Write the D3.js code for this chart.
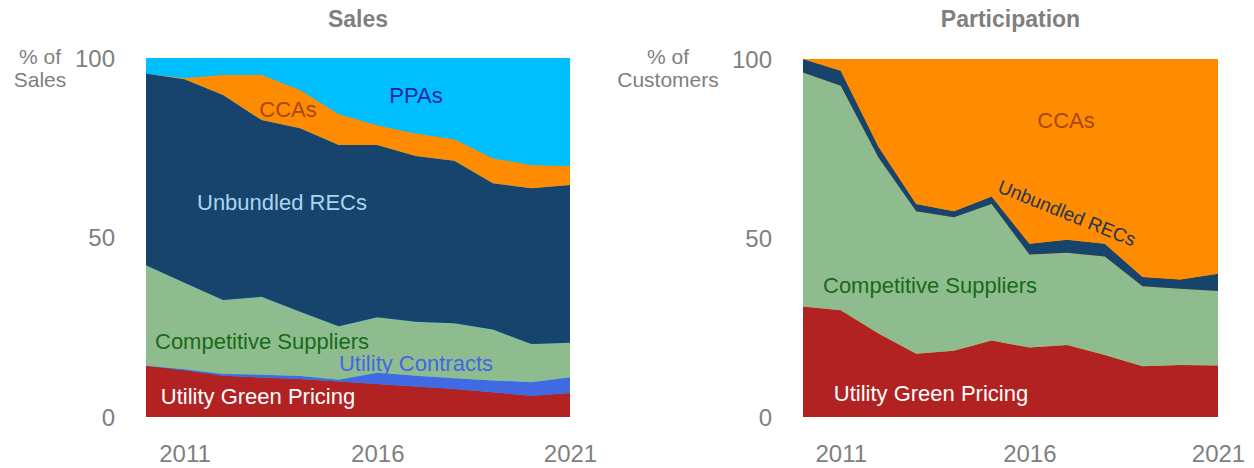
<!DOCTYPE html>
<html>
<head>
<meta charset="utf-8">
<script src="https://cdn.jsdelivr.net/npm/d3@7/dist/d3.min.js"></script>
<style>
  html, body { margin: 0; padding: 0; background: #fff; }
  svg text { font-family: "Liberation Sans", Arial, sans-serif; }
</style>
</head>
<body>
<svg id="chart" width="1254" height="468"></svg>
<script>
// ---------- data ----------
const years = [2010, 2011, 2012, 2013, 2014, 2015, 2016, 2017, 2018, 2019, 2020, 2021];
const xTickYears = [2011, 2016, 2021];
const yTicks = [0, 50, 100];

// Sales (% of sales)
const salesGreenPricing = [14.3, 13.0, 11.5, 11.0, 10.6, 9.9, 9.2, 8.5, 7.8, 6.9, 5.9, 6.7];
const salesUtilityContracts = [0.0, 0.3, 0.5, 0.8, 0.8, 0.5, 3.1, 3.0, 3.0, 3.3, 3.8, 4.4];
const salesCompetitive = [28.0, 24.1, 20.6, 21.7, 17.9, 14.9, 15.5, 15.0, 15.3, 14.2, 10.6, 9.6];
const salesRECs = [53.4, 56.7, 57.1, 49.2, 51.1, 50.5, 48.0, 46.2, 45.3, 40.7, 43.4, 43.9];
const salesCCAs = [0.0, 0.3, 5.6, 12.6, 10.7, 8.6, 5.5, 6.3, 6.0, 7.0, 6.5, 5.3];
const salesPPAs = [4.3, 5.6, 4.7, 4.7, 8.9, 15.6, 18.7, 21.0, 22.6, 27.9, 29.8, 30.1];

// Participation (% of customers)
const partGreenPricing = [30.9, 29.8, 23.3, 17.7, 18.5, 21.4, 19.4, 20.1, 17.3, 14.2, 14.5, 14.4];
const partCompetitive = [65.3, 62.7, 49.2, 39.8, 37.3, 38.1, 26.0, 25.8, 27.5, 22.3, 21.3, 20.8];
const partRECs = [3.8, 4.2, 3.0, 2.0, 1.7, 2.1, 3.0, 3.6, 3.6, 2.6, 2.6, 4.8];
const partCCAs = [0.0, 3.3, 24.5, 40.5, 42.5, 38.4, 51.6, 50.5, 51.6, 60.9, 61.6, 60.0];

const colors = {
  ugp: "#B22222", uc: "#4169E1", cs: "#8FBC8F", recs: "#17446D", cca: "#FF8C00", ppa: "#00BFFF"
};

const svg = d3.select("#chart");

function drawPanel(cfg) {
  const x = d3.scaleLinear().domain([2010, 2021]).range([cfg.left, cfg.right]);
  const y = d3.scaleLinear().domain([0, 100]).range([cfg.bottom, cfg.top]);
  const rows = years.map((yr, i) => {
    const r = { year: yr };
    cfg.series.forEach(s => { r[s.key] = s.values[i]; });
    return r;
  });
  const stack = d3.stack().keys(cfg.series.map(s => s.key));
  const layers = stack(rows);
  const area = d3.area()
    .x(d => x(d.data.year))
    .y0(d => y(d[0]))
    .y1(d => y(d[1]));
  const g = svg.append("g");
  g.append("rect")
    .attr("x", cfg.left).attr("y", cfg.top)
    .attr("width", cfg.right - cfg.left).attr("height", cfg.bottom - cfg.top)
    .attr("fill", cfg.bg);
  g.selectAll("path.layer").data(layers).enter().append("path")
    .attr("class", "layer")
    .attr("d", area)
    .attr("fill", d => colors[d.key]);

  // y axis ticks
  const yAxis = d3.axisLeft(y).tickValues(yTicks).tickSize(0).tickPadding(0);
  const ya = svg.append("g").attr("transform", `translate(${cfg.yLabelX},0)`).call(yAxis);
  ya.select(".domain").remove();
  ya.selectAll("text")
    .attr("fill", "#7f7f7f")
    .style("font-size", "24px")
    .style("font-family", '"Liberation Sans", Arial, sans-serif')
    .attr("dy", "0.35em");

  // x axis ticks
  const xAxis = d3.axisBottom(x).tickValues(xTickYears).tickFormat(d3.format("d")).tickSize(0).tickPadding(0);
  const xa = svg.append("g").attr("transform", `translate(0,${cfg.xLabelY})`).call(xAxis);
  xa.select(".domain").remove();
  xa.selectAll("text")
    .attr("fill", "#7f7f7f")
    .attr("dy", 0)
    .style("font-size", "24px")
    .style("font-family", '"Liberation Sans", Arial, sans-serif');

  // title
  svg.append("text")
    .attr("x", (cfg.left + cfg.right) / 2).attr("y", 27)
    .attr("text-anchor", "middle")
    .attr("fill", "#7f7f7f")
    .style("font-size", "23px").style("font-weight", "bold")
    .text(cfg.title);

  // y axis title (two lines)
  svg.append("text")
    .attr("x", cfg.yTitleX).attr("y", 64)
    .attr("text-anchor", "middle")
    .attr("fill", "#7f7f7f")
    .style("font-size", "21px")
    .text("% of");
  svg.append("text")
    .attr("x", cfg.yTitleX).attr("y", 87)
    .attr("text-anchor", "middle")
    .attr("fill", "#7f7f7f")
    .style("font-size", "21px")
    .text(cfg.yTitle2);

  // series labels
  cfg.labels.forEach(l => {
    const t = svg.append("text")
      .attr("text-anchor", "middle")
      .attr("fill", l.color)
      .style("font-size", (l.size || 22) + "px")
      .text(l.text);
    if (l.rotate) {
      t.attr("transform", `translate(${l.x},${l.y}) rotate(${l.rotate})`).attr("dy", "0.35em");
    } else {
      t.attr("x", l.x).attr("y", l.y);
    }
  });
}

drawPanel({
  title: "Sales",
  left: 146, right: 570, top: 58, bottom: 417,
  bg: colors.ppa,
  yLabelX: 115, xLabelY: 462, yTitleX: 40, yTitle2: "Sales",
  series: [
    { key: "ugp", values: salesGreenPricing },
    { key: "uc", values: salesUtilityContracts },
    { key: "cs", values: salesCompetitive },
    { key: "recs", values: salesRECs },
    { key: "cca", values: salesCCAs },
    { key: "ppa", values: salesPPAs }
  ],
  labels: [
    { text: "PPAs", x: 416, y: 103, color: "#1F2A9E" },
    { text: "CCAs", x: 288, y: 117, color: "#A8470F" },
    { text: "Unbundled RECs", x: 282, y: 210, color: "#A9D6EC" },
    { text: "Competitive Suppliers", x: 262, y: 349, color: "#176B17" },
    { text: "Utility Contracts", x: 416, y: 371, color: "#4169E1" },
    { text: "Utility Green Pricing", x: 258, y: 404, color: "#FFFFFF" }
  ]
});

drawPanel({
  title: "Participation",
  left: 803, right: 1218, top: 59, bottom: 417,
  bg: colors.cca,
  yLabelX: 772, xLabelY: 462, yTitleX: 668, yTitle2: "Customers",
  series: [
    { key: "ugp", values: partGreenPricing },
    { key: "cs", values: partCompetitive },
    { key: "recs", values: partRECs },
    { key: "cca", values: partCCAs }
  ],
  labels: [
    { text: "CCAs", x: 1066, y: 128, color: "#A8470F" },
    { text: "Unbundled RECs", x: 1067, y: 213, color: "#1F3550", rotate: 22, size: 19 },
    { text: "Competitive Suppliers", x: 930, y: 293, color: "#176B17" },
    { text: "Utility Green Pricing", x: 931, y: 401, color: "#FFFFFF" }
  ]
});
</script>
</body>
</html>
